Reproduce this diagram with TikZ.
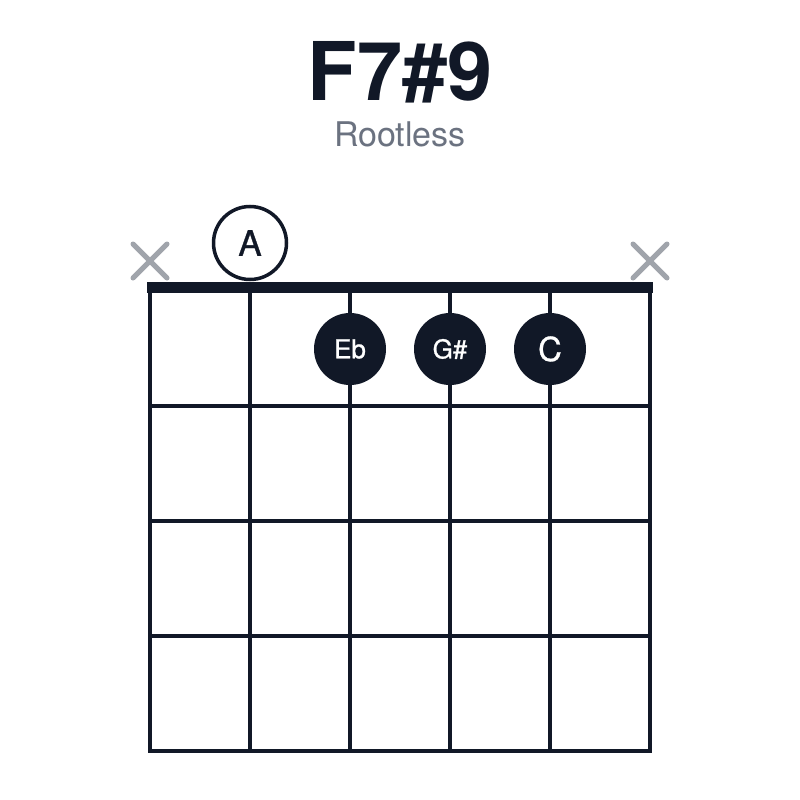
\documentclass[tikz,border=0pt]{standalone}
\usepackage{fontspec}
\setmainfont{TeX Gyre Heros}
\newfontfamily\medfont[FakeBold=0.9]{TeX Gyre Heros}
\definecolor{ink}{HTML}{111827}
\definecolor{subgray}{HTML}{6B7280}
\definecolor{xgray}{HTML}{A0A4AB}
\begin{document}
\begin{tikzpicture}[x=1pt,y=-1pt,
  gridline/.style={draw=ink,line width=3.5pt},
  nutline/.style={draw=ink,line width=11pt},
  mutemark/.style={draw=xgray,line width=5pt,line cap=round},
  opendot/.style={circle,draw=ink,line width=3.5pt,fill=white,minimum size=73pt,inner sep=0pt,text=ink,font=\medfont\fontsize{35}{35}\selectfont},
  fingerdot/.style={circle,fill=ink,minimum size=72pt,inner sep=0pt,text=white},
]
\useasboundingbox[fill=white] (0,0) rectangle (800,800);
% title
\node[text=ink,font=\fontsize{81}{81}\selectfont\bfseries] (title) at (400,72) {F7\#9};
\node[text=subgray,font=\fontsize{34}{34}\selectfont] (subtitle) at (400,134) {Rootless};
% strings
\foreach \i in {0,...,5} {
  \draw[gridline] (150+100*\i,287) -- (150+100*\i,751);
}
% frets
\foreach \y in {406,521,636,751} {
  \draw[gridline] (148.25,\y) -- (651.75,\y);
}
% nut
\draw[nutline] (147,287.5) -- (653,287.5);
% mute marks
\foreach \x in {150,650} {
  \draw[mutemark] (\x-17,244) -- (\x+17,278);
  \draw[mutemark] (\x-17,278) -- (\x+17,244);
}
% open string
\node[opendot] (a) at (250,243) {A};
% fingered notes
\node[fingerdot,font=\medfont\fontsize{26}{26}\selectfont] (eb) at (350,349) {Eb};
\node[fingerdot,font=\medfont\fontsize{26}{26}\selectfont] (gs) at (450,349) {G\#};
\node[fingerdot,font=\medfont\fontsize{33}{33}\selectfont] (c) at (550,349) {C};
\end{tikzpicture}
\end{document}
